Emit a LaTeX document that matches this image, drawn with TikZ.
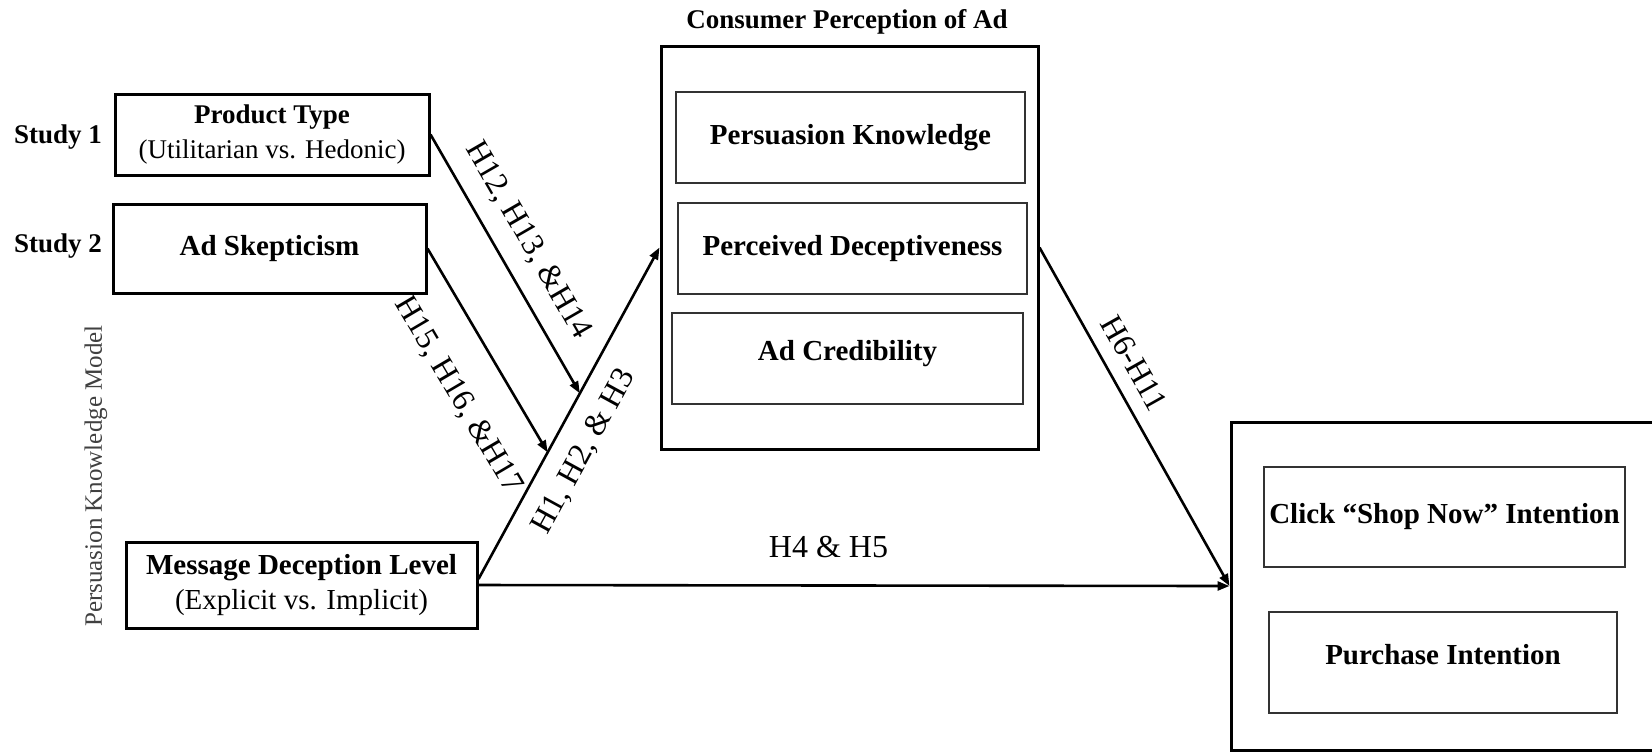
\documentclass[tikz,border=0pt]{standalone}
\usepackage{fontspec}
\setmainfont{Liberation Serif}
\usetikzlibrary{arrows.meta,calc}
\begin{document}
\begin{tikzpicture}[x=0.5pt,y=-0.5pt,
  frame/.style={draw=black, line width=1.5pt, inner sep=0pt, align=center},
  subbox/.style={draw=black!80, line width=0.8pt, inner sep=0pt, align=center,
    font=\fontsize{14.5}{17.5}\selectfont\bfseries},
  link/.style={line width=1.3pt, -{Triangle[length=6pt,width=4.5pt]}},
  hyp/.style={font=\fontsize{16}{19}\selectfont, inner sep=0pt},
  sidelabel/.style={font=\fontsize{13.5}{16}\selectfont\bfseries, inner sep=0pt}]

\useasboundingbox (0,0) rectangle (1652,752);

% moderators and independent variable
\node[frame, minimum width=157pt, minimum height=40.5pt,
      font=\fontsize{13.5}{17.5}\selectfont] (product) at (272,134.5)
  {\textbf{Product Type}\\(Utilitarian vs. Hedonic)};
\node[frame, minimum width=156.5pt, minimum height=44.5pt,
      font=\fontsize{14.5}{17.5}\selectfont\bfseries] (skept) at (269.5,248.5)
  {Ad Skepticism};
\node[frame, minimum width=175.5pt, minimum height=43pt,
      font=\fontsize{14.5}{17.5}\selectfont] (mdl) at (301.5,585)
  {\textbf{Message Deception Level}\\(Explicit vs. Implicit)};

\node[sidelabel] (study1) at (58,137) {Study 1};
\node[sidelabel] (study2) at (58,246) {Study 2};
\node[rotate=90, inner sep=0pt, text=black!75,
      font=\fontsize{12.5}{15}\selectfont] (pkm) at (96,476) {Persuasion Knowledge Model};

% mediators
\node[frame, minimum width=188.5pt, minimum height=201.5pt] (cpa) at (849.5,247.5) {};
\node[font=\fontsize{13.5}{16}\selectfont\bfseries, inner sep=0pt] (cpatitle) at (847,22)
  {Consumer Perception of Ad};
\node[subbox, minimum width=174.5pt, minimum height=45.5pt] (pk) at (850.5,137.5)
  {Persuasion Knowledge};
\node[subbox, minimum width=174.5pt, minimum height=45.5pt] (pd) at (852.5,248.5)
  {Perceived Deceptiveness};
\node[subbox, minimum width=175.5pt, minimum height=45.5pt, text depth=8pt] (ac) at (847.5,358.5)
  {Ad Credibility};

% outcomes
\node[frame, minimum width=217pt, minimum height=164pt] (outcome) at (1448,586) {};
\node[subbox, minimum width=180.5pt, minimum height=50pt] (click) at (1444.5,517)
  {Click \textquotedblleft Shop Now\textquotedblright\ Intention};
\node[subbox, minimum width=174pt, minimum height=50.5pt, text depth=8pt] (purchase) at (1443,662.5)
  {Purchase Intention};

% paths
\coordinate (h1start) at ($(mdl.east)+(0,-6)$);
\coordinate (m12) at ($(h1start)!0.56!(cpa.west)$);
\coordinate (m15) at ($(h1start)!0.382!(cpa.west)$);

\draw[link] (h1start) -- node[hyp, sloped, pos=0.43, below=8.7pt] {H1, H2, \& H3} (cpa.west);
\draw[link] (product.east) -- node[hyp, sloped, pos=0.47, above=8.5pt] {H12, H13, \&H14} (m12);
\draw[link] (skept.east) -- node[hyp, sloped, pos=0.60, below=17pt] {H15, H16, \&H17} (m15);
\draw[link] (cpa.east) -- node[hyp, sloped, pos=0.38, above=7pt] {H6-H11} (outcome.west);
\draw[link] (mdl.east) -- node[hyp, pos=0.466, above=13.2pt] {H4 \& H5} (outcome.west);

\end{tikzpicture}
\end{document}
